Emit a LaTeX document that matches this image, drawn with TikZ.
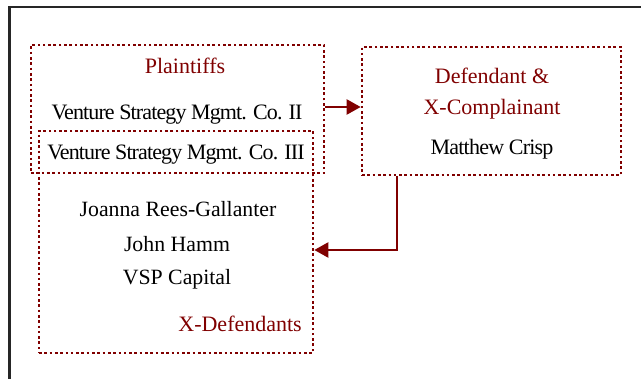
\documentclass[tikz,border=0pt]{standalone}
\usepackage{fontspec}
\setmainfont{Liberation Serif}
\newfontfamily\tightfont[LetterSpace=-4.0]{Liberation Serif}
\newfontfamily\tightfontb[LetterSpace=-3.5]{Liberation Serif}
\usetikzlibrary{arrows.meta}
\definecolor{dred}{RGB}{128,0,0}
\tikzset{
  box/.style={draw=dred, line width=2.6pt, dash pattern=on 2.6pt off 2.7pt, inner sep=0pt},
  lbl/.style={text=dred, inner sep=0pt, anchor=base, font=\fontsize{22}{26}\selectfont},
  big/.style={text=black, inner sep=0pt, anchor=base, font=\fontsize{21.8}{26}\selectfont},
  txt/.style={text=black, inner sep=0pt, anchor=base, font=\tightfont\fontsize{22}{26}\selectfont},
  txtb/.style={text=black, inner sep=0pt, anchor=base, font=\tightfontb\fontsize{22}{26}\selectfont},
  arr/.style={draw=dred, line width=2.2pt, -{Triangle[length=14pt,width=15pt]}},
  frame/.style={draw=black!85, line width=2.4pt}
}
\begin{document}
\begin{tikzpicture}[x=1pt,y=-1pt]
\useasboundingbox (0,0) rectangle (641,379);
\draw[frame] (9.5,379) -- (9.5,7) -- (641,7);
% boxes
\node[box, minimum width=293pt, minimum height=128pt] (pl) at (177.5,109) {};
\node[box, minimum width=274pt, minimum height=222pt] (xd) at (176,242) {};
\node[box, minimum width=259pt, minimum height=128pt] (def) at (491.5,111) {};
% texts
\node[lbl] (plt) at (185,74) {Plaintiffs};
\node[txt] (v2) at (177,120) {Venture Strategy Mgmt. Co. II};
\node[txt] (v3) at (176,160) {Venture Strategy Mgmt. Co. III};
\node[lbl] (dft) at (492,84) {Defendant \&};
\node[lbl] (xct) at (492,115) {X-Complainant};
\node[txtb] (mc) at (492,155) {Matthew Crisp};
\node[big] (jrg) at (178,217) {Joanna Rees-Gallanter};
\node[big] (jh) at (177,252) {John Hamm};
\node[big] (vsp) at (177,285) {VSP Capital};
\node[lbl, anchor=base east] (xdt) at (302,332) {X-Defendants};
% connectors
\draw[arr] (pl.east |- 0,107) -- (def.west |- 0,107);
\draw[arr] (def.south -| 397,0) |- (xd.east |- 0,250);
\end{tikzpicture}
\end{document}
